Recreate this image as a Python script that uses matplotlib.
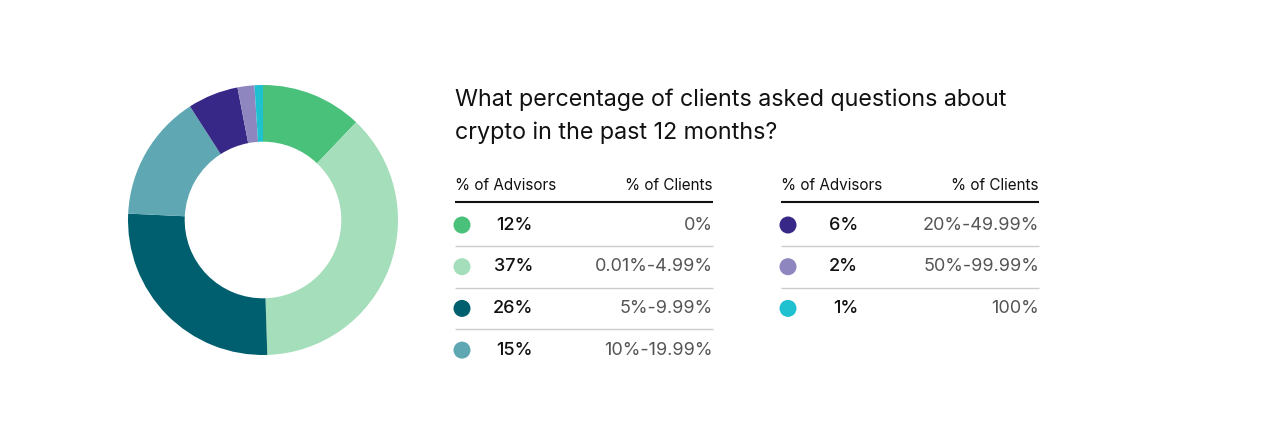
import matplotlib.pyplot as plt

plt.rcParams["font.family"] = ["Inter", "DejaVu Sans"]

TITLE = "What percentage of clients asked questions about\ncrypto in the past 12 months?"
ADVISORS = [12, 37, 26, 15, 6, 2, 1]
CLIENTS = ["0%", "0.01%-4.99%", "5%-9.99%", "10%-19.99%",
           "20%-49.99%", "50%-99.99%", "100%"]
COLORS = ["#4ac17a", "#a4debb", "#005f6e", "#5fa8b3",
          "#372887", "#8e86bf", "#1fc1d0"]

W, H = 1288, 448


def main() -> None:
    fig = plt.figure(figsize=(W / 100, H / 100), dpi=100)
    fig.patch.set_facecolor("white")

    # Donut
    cx, cy, r = 263, 220, 135
    pax = fig.add_axes([(cx - r) / W, (H - cy - r) / H, 2 * r / W, 2 * r / H])
    pax.pie(ADVISORS, colors=COLORS, startangle=90, counterclock=False,
            radius=1.0, wedgeprops=dict(width=0.42, edgecolor="none"))
    pax.set_xlim(-1, 1)
    pax.set_ylim(-1, 1)
    pax.set_aspect("equal")
    pax.axis("off")

    # Overlay in pixel coordinates (top-left origin)
    ax = fig.add_axes([0, 0, 1, 1])
    ax.set_xlim(0, W)
    ax.set_ylim(H, 0)
    ax.axis("off")

    ax.text(455, 139, TITLE, ha="left", va="baseline", fontsize=16.8,
            color="#111111", linespacing=1.6)

    tables = [
        dict(x0=455, x1=713, dot=462, val=533, rows=range(0, 4)),
        dict(x0=781, x1=1039, dot=788, val=858, rows=range(4, 7)),
    ]
    row_y0, row_dy = 225, 41.7
    for t in tables:
        ax.text(t["x0"], 185, "% of Advisors", ha="left", va="center",
                fontsize=11, color="#111111")
        ax.text(t["x1"], 185, "% of Clients", ha="right", va="center",
                fontsize=11, color="#111111")
        ax.plot([t["x0"], t["x1"]], [202, 202], color="#111111", lw=1.5,
                solid_capstyle="butt")
        for k, i in enumerate(t["rows"]):
            y = row_y0 + k * row_dy
            ax.scatter([t["dot"]], [y], s=150, color=COLORS[i],
                       edgecolors="none", zorder=3)
            ax.text(t["val"], y, f"{ADVISORS[i]}%", ha="right", va="center",
                    fontsize=13, color="#111111", fontweight="medium")
            ax.text(t["x1"], y, CLIENTS[i], ha="right", va="center",
                    fontsize=13, color="#555555")
            if k < len(t["rows"]) - 1:
                ly = y + row_dy / 2
                ax.plot([t["x0"], t["x1"]], [ly, ly], color="#cccccc",
                        lw=1.0, solid_capstyle="butt")

    fig.savefig("out.png", dpi=100, facecolor="white")
    plt.close(fig)


if __name__ == "__main__":
    main()
